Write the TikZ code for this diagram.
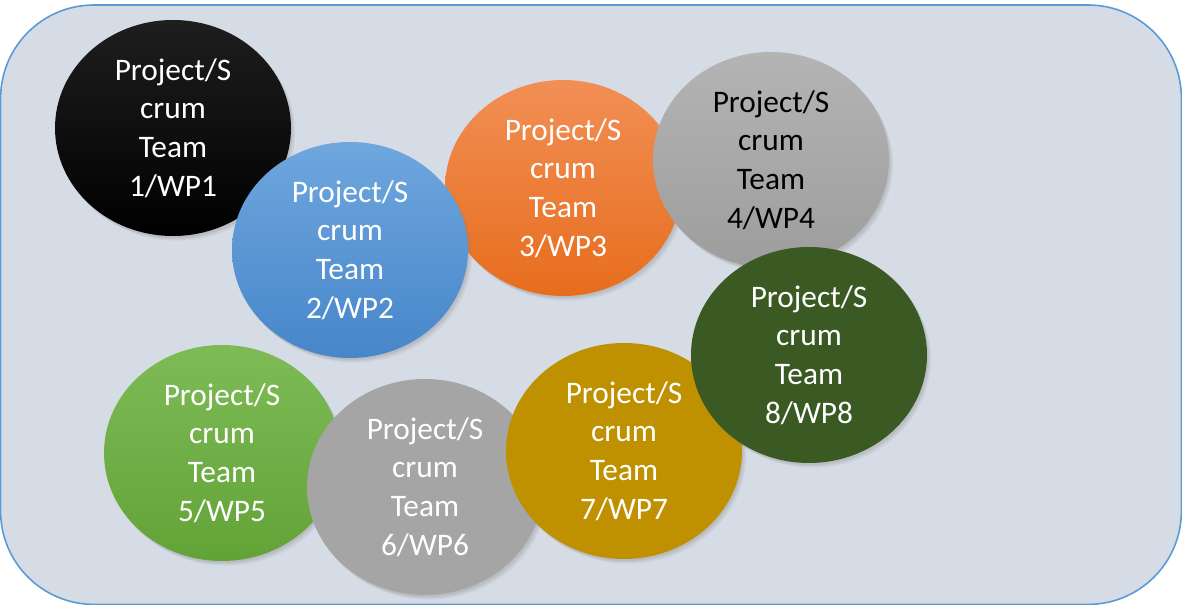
\documentclass[tikz,border=0pt]{standalone}
\usepackage{fontspec}
\setmainfont{Carlito}
\usetikzlibrary{shapes.geometric,shadows}
\definecolor{bgfill}{HTML}{D6DCE5}
\definecolor{bgline}{HTML}{5B9BD5}
\definecolor{blackTop}{HTML}{1E1E1E}
\definecolor{blackBot}{HTML}{000000}
\definecolor{blueTop}{HTML}{6FA7DE}
\definecolor{blueBot}{HTML}{4786CA}
\definecolor{orangeTop}{HTML}{F28F55}
\definecolor{orangeBot}{HTML}{E76D1D}
\definecolor{greyTop}{HTML}{B4B4B4}
\definecolor{greyBot}{HTML}{9D9D9D}
\definecolor{greenTop}{HTML}{7EBB57}
\definecolor{greenBot}{HTML}{62A337}
\definecolor{grey6}{HTML}{A5A5A5}
\definecolor{gold}{HTML}{BF9000}
\definecolor{dkgreen}{HTML}{3A5923}
\begin{document}
\begin{tikzpicture}[x=0.75pt,y=-0.75pt,
  team/.style={ellipse, minimum width=177pt, minimum height=162pt, inner sep=0pt,
    align=center, text=white, font=\fontsize{23.5}{29}\selectfont,
    drop shadow={opacity=0.10, shadow xshift=3pt, shadow yshift=-3.5pt},
    drop shadow={opacity=0.12, shadow xshift=2pt, shadow yshift=-2.5pt},
    drop shadow={opacity=0.15, shadow xshift=1pt, shadow yshift=-1.5pt}},
  bgbox/.style={fill=bgfill, draw=bgline, line width=1.2pt, rounded corners=70pt}]
\useasboundingbox (0,0) rectangle (1182,605);
\clip (0,0) rectangle (1182,605);
\path[bgbox] (0.6,5) rectangle (1181.4,604.4);
\node[team, top color=blackTop, bottom color=blackBot] (t1) at (173,128) {Project/S\\crum\\Team\\1/WP1};
\node[team, top color=orangeTop, bottom color=orangeBot] (t3) at (563,188) {Project/S\\crum\\Team\\3/WP3};
\node[team, top color=blueTop, bottom color=blueBot] (t2) at (350,250) {Project/S\\crum\\Team\\2/WP2};
\node[team, top color=greyTop, bottom color=greyBot, text=black] (t4) at (771,160) {Project/S\\crum\\Team\\4/WP4};
\node[team, top color=greenTop, bottom color=greenBot] (t5) at (222,453) {Project/S\\crum\\Team\\5/WP5};
\node[team, fill=grey6] (t6) at (425,487) {Project/S\\crum\\Team\\6/WP6};
\node[team, fill=gold] (t7) at (624,451) {Project/S\\crum\\Team\\7/WP7};
\node[team, fill=dkgreen] (t8) at (809,355) {Project/S\\crum\\Team\\8/WP8};
\end{tikzpicture}
\end{document}
